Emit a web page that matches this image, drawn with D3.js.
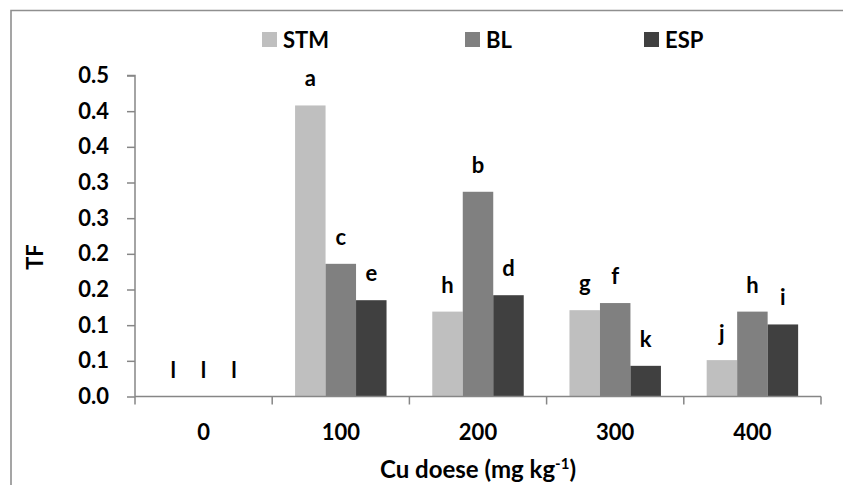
<!DOCTYPE html>
<html>
<head>
<meta charset="utf-8">
<script src="https://cdn.jsdelivr.net/npm/d3@7"></script>
<style>
  html, body { margin: 0; padding: 0; background: #fff; }
  svg { display: block; font-family: Lato, "Noto Sans", sans-serif; font-weight: bold; }
</style>
</head>
<body>
<svg id="chart" width="843" height="485"></svg>
<script>
// Cu dose groups and the three plant parts
const doses = ["0", "100", "200", "300", "400"];
const series = ["STM", "BL", "ESP"];
const colors = ["#bfbfbf", "#808080", "#404040"];

// TF values per dose, one array per series
const stm = [0, 0.408, 0.119, 0.121, 0.051];
const bl  = [0, 0.186, 0.287, 0.131, 0.119];
const esp = [0, 0.135, 0.142, 0.043, 0.101];

// significance letters per dose, per series
const stmLetters = ["l", "a", "h", "g", "j"];
const blLetters  = ["l", "c", "b", "f", "h"];
const espLetters = ["l", "e", "d", "k", "i"];

// y ticks and their printed labels (one decimal place)
const yTicks = [0, 0.05, 0.1, 0.15, 0.2, 0.25, 0.3, 0.35, 0.4, 0.45];
const yTickLabels = ["0.0", "0.1", "0.1", "0.2", "0.2", "0.3", "0.3", "0.4", "0.4", "0.5"];

const values = [stm, bl, esp];
const letters = [stmLetters, blLetters, espLetters];

const svg = d3.select("#chart");
const fontSize = 22;

// outer frame (top and left edges visible)
svg.append("path")
  .attr("d", "M11,485 V10.5 H843")
  .attr("fill", "none")
  .attr("stroke", "#8f8f8f")
  .attr("stroke-width", 1.6);

const plot = { left: 135, right: 821, top: 75.5, bottom: 396.5 };

const x = d3.scaleBand().domain(doses).range([plot.left, plot.right]).padding(0);
const bw = x.bandwidth();
const gap = bw * 1.5 / 4.5;
const x1 = d3.scaleBand().domain(series).range([gap / 2, bw - gap / 2]).padding(0);
const y = d3.scaleLinear().domain([0, 0.45]).range([plot.bottom, plot.top]);

// bars
const groups = svg.append("g").selectAll("g")
  .data(doses)
  .join("g")
  .attr("transform", d => `translate(${x(d)},0)`);

groups.selectAll("rect")
  .data((d, i) => series.map((s, k) => ({ s, k, v: values[k][i] })))
  .join("rect")
  .attr("x", d => x1(d.s))
  .attr("width", x1.bandwidth())
  .attr("y", d => y(d.v))
  .attr("height", d => y(0) - y(d.v))
  .attr("fill", d => colors[d.k]);

// letters above bars
groups.selectAll("text")
  .data((d, i) => series.map((s, k) => ({ s, k, v: values[k][i], t: letters[k][i] })))
  .join("text")
  .attr("x", d => x1(d.s) + x1.bandwidth() / 2)
  .attr("y", d => y(d.v) - 19)
  .attr("text-anchor", "middle")
  .attr("font-size", fontSize)
  .attr("fill", "#000")
  .text(d => d.t);

// y axis
const yAxis = svg.append("g")
  .attr("transform", `translate(${plot.left},0)`)
  .call(d3.axisLeft(y).tickValues(yTicks).tickSize(8).tickPadding(18)
    .tickFormat((d, i) => yTickLabels[i]));
yAxis.select(".domain").attr("stroke", "#868686").attr("stroke-width", 1.5)
  .attr("d", `M-8,${y(0.45)}H0V${y(0)}`);
yAxis.selectAll(".tick line").attr("stroke", "#868686").attr("stroke-width", 1.5);
yAxis.selectAll(".tick text").attr("font-size", fontSize).attr("font-family", "Lato, sans-serif")
  .attr("font-weight", "bold").attr("fill", "#000");

// x axis with ticks on category boundaries
const xAxis = svg.append("g").attr("transform", `translate(0,${plot.bottom})`);
xAxis.append("line")
  .attr("x1", plot.left).attr("x2", plot.right)
  .attr("stroke", "#868686").attr("stroke-width", 1.5);
xAxis.selectAll(".xtick")
  .data(doses.concat(["end"]))
  .join("line")
  .attr("class", "xtick")
  .attr("x1", (d, i) => i < doses.length ? x(d) : plot.right)
  .attr("x2", (d, i) => i < doses.length ? x(d) : plot.right)
  .attr("y1", 0).attr("y2", 8)
  .attr("stroke", "#868686").attr("stroke-width", 1.5);
xAxis.selectAll(".xlabel")
  .data(doses)
  .join("text")
  .attr("class", "xlabel")
  .attr("x", d => x(d) + bw / 2)
  .attr("y", 43)
  .attr("text-anchor", "middle")
  .attr("font-size", fontSize)
  .text(d => d);

// axis titles
svg.append("text")
  .attr("transform", `translate(43,257) rotate(-90)`)
  .attr("text-anchor", "middle")
  .attr("font-size", fontSize)
  .text("TF");

const xt = svg.append("text")
  .attr("x", (plot.left + plot.right) / 2)
  .attr("y", 478)
  .attr("text-anchor", "middle")
  .attr("font-size", 24);
xt.append("tspan").text("Cu doese (mg kg");
xt.append("tspan").attr("dy", -9).attr("font-size", 15).text("-1");
xt.append("tspan").attr("dy", 9).text(")");

// legend
const legendX = [262, 465, 644];
const legend = svg.append("g").selectAll("g")
  .data(series)
  .join("g")
  .attr("transform", (d, i) => `translate(${legendX[i]},32)`);
legend.append("rect").attr("width", 15).attr("height", 15)
  .attr("fill", (d, i) => colors[i]);
legend.append("text").attr("x", 21).attr("y", 16)
  .attr("font-size", fontSize)
  .text(d => d);
</script>
</body>
</html>
